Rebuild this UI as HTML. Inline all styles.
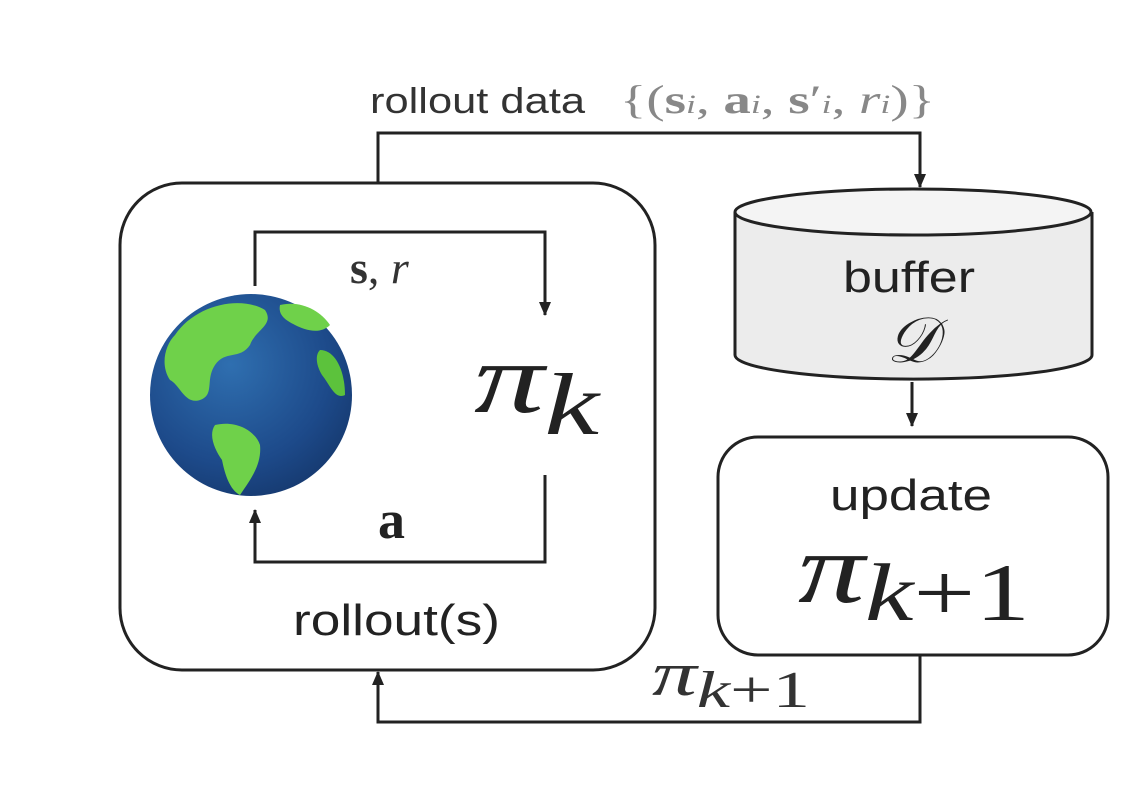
<!DOCTYPE html>
<html><head><meta charset="utf-8"><style>
html,body{margin:0;padding:0;background:#fff;}
svg{display:block;}
.sans{font-family:"Liberation Sans",sans-serif;}
.serif{font-family:"Liberation Serif",serif;}
</style></head><body>
<svg width="1144" height="786" viewBox="0 0 1144 786" xmlns="http://www.w3.org/2000/svg">
<defs>
<marker id="ah" markerWidth="14" markerHeight="12" refX="13" refY="6" orient="auto" markerUnits="userSpaceOnUse" viewBox="0 0 14 12">
<path d="M0,0 L14,6 L0,12 Z" fill="#222"/>
</marker>
<radialGradient id="ocean" cx="40%" cy="35%" r="70%">
<stop offset="0" stop-color="#2f6fb0"/><stop offset="0.7" stop-color="#1d4a8a"/><stop offset="1" stop-color="#163a70"/>
</radialGradient>
</defs>
<g stroke="#222" stroke-width="3" fill="none">
<path d="M378,183 V133 H920 V187" marker-end="url(#ah)"/>
<rect x="120" y="183" width="535" height="487" rx="62"/>
<path d="M255,286 V232 H545 V315" marker-end="url(#ah)"/>
<path d="M545,475 V562 H255 V510" marker-end="url(#ah)"/>
<path d="M912,382 V426" marker-end="url(#ah)"/>
<rect x="718" y="437" width="390" height="218" rx="40"/>
<path d="M920,655 V722 H378 V672" marker-end="url(#ah)"/>
</g>
<g stroke="#222" stroke-width="3">
<path d="M735,212 V355 A178,24 0 0 0 1092,355 V212" fill="#ececec"/>
<ellipse cx="913" cy="212" rx="178" ry="23" fill="#f4f4f4"/>
</g>
<g>
<circle cx="251" cy="395" r="101" fill="url(#ocean)"/>
<path d="M175,335 C195,305 240,295 265,310 C275,325 255,330 250,345 C240,360 225,350 215,365 C205,380 215,395 200,400 C185,405 180,385 170,380 C160,365 165,345 175,335Z" fill="#6fd14a"/>
<path d="M280,305 C300,300 320,310 330,325 C320,335 305,330 295,325 C285,320 278,315 280,305Z" fill="#6fd14a"/>
<path d="M215,425 C235,420 255,430 260,445 C262,465 250,480 240,495 C230,490 225,475 222,460 C215,450 208,435 215,425Z" fill="#6fd14a"/>
<path d="M320,350 C335,350 345,370 345,395 C335,400 330,385 322,375 C316,365 315,355 320,350Z" fill="#5cc23c"/>
</g>
<text class="sans" x="370" y="113" font-size="36" fill="#333" textLength="215" lengthAdjust="spacingAndGlyphs">rollout data</text>
<text class="serif" x="620" y="113" font-size="40" fill="#888" textLength="315" lengthAdjust="spacingAndGlyphs">{(<tspan font-weight="bold">s</tspan><tspan font-style="italic" font-size="26">i</tspan>, <tspan font-weight="bold">a</tspan><tspan font-style="italic" font-size="26">i</tspan>, <tspan font-weight="bold">s</tspan>′<tspan font-style="italic" font-size="26">i</tspan>, <tspan font-style="italic">r</tspan><tspan font-style="italic" font-size="26">i</tspan>)}</text>
<text class="serif" x="350" y="283" font-size="46" fill="#333"><tspan font-weight="bold">s</tspan>, <tspan font-style="italic">r</tspan></text>
<text class="serif" x="474" y="412" font-size="100" fill="#222" font-style="italic" textLength="125" lengthAdjust="spacingAndGlyphs">π<tspan font-size="88" dy="22">k</tspan></text>
<text class="serif" x="378" y="538" font-size="54" font-weight="bold" fill="#222">a</text>
<text class="sans" x="293" y="635" font-size="44" fill="#222" textLength="207" lengthAdjust="spacingAndGlyphs">rollout(s)</text>
<text class="sans" x="843" y="292" font-size="44" fill="#222" textLength="132" lengthAdjust="spacingAndGlyphs">buffer</text>
<text class="serif" x="912" y="362" font-size="64" fill="#222" font-style="italic" text-anchor="middle">𝒟</text>
<text class="sans" x="830" y="510" font-size="44" fill="#222" textLength="162" lengthAdjust="spacingAndGlyphs">update</text>
<text class="serif" x="798" y="602" font-size="100" fill="#222" font-style="italic" textLength="232" lengthAdjust="spacingAndGlyphs">π<tspan font-size="82" dy="18">k</tspan><tspan font-size="82" font-style="normal">+1</tspan></text>
<text class="serif" x="652" y="695" font-size="62" fill="#333" font-style="italic" textLength="158" lengthAdjust="spacingAndGlyphs">π<tspan font-size="52" dy="12">k</tspan><tspan font-size="52" font-style="normal">+1</tspan></text>
</svg>
</body></html>
